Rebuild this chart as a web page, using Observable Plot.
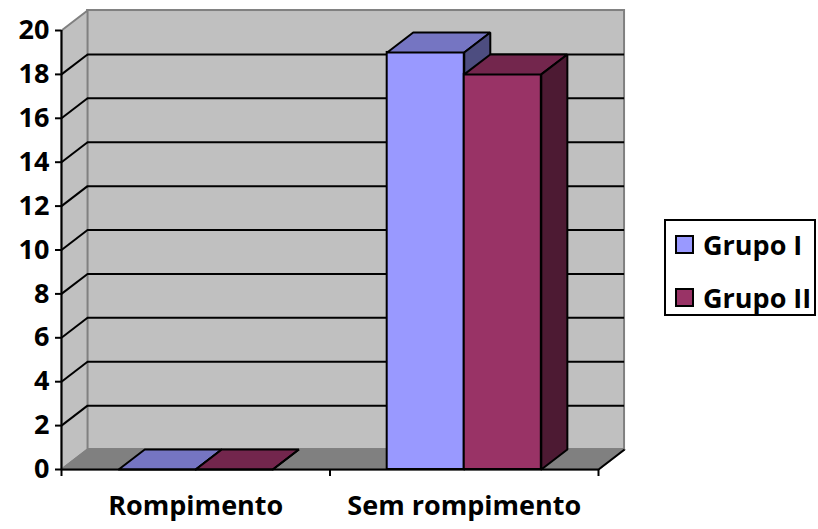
<!DOCTYPE html>
<html>
<head>
<meta charset="utf-8">
<script src="https://cdn.jsdelivr.net/npm/d3@7"></script>
<script src="https://cdn.jsdelivr.net/npm/@observablehq/plot@0.6"></script>
<style>
  body { margin: 0; background: #fff; }
  #chart { position: relative; width: 818px; height: 529px; font-family: "Open Sans", sans-serif; font-weight: bold; }
  #legend { position: absolute; left: 664px; top: 219px; width: 152px; height: 97px; border: 2px solid #000; background: #fff; box-sizing: border-box; }
  .item { position: absolute; left: 9px; display: flex; align-items: center; font-size: 27px; line-height: 1; color: #000; white-space: nowrap; }
  .sw { width: 15px; height: 15px; border: 2px solid #000; margin-right: 9px; flex: none; }
</style>
</head>
<body>
<div id="chart"></div>
<script>
// Chart data
const categories = ["Rompimento", "Sem rompimento"];
const series = ["Grupo I", "Grupo II"];
const grupoI = [0, 19];
const grupoII = [0, 18];
const yTicks = [0, 2, 4, 6, 8, 10, 12, 14, 16, 18, 20];

// Face shading per series: front, top, side
const palette = [
  { front: "#9999ff", top: "#7575c2", side: "#4d4d80" },
  { front: "#993366", top: "#73264d", side: "#4d1a33" }
];

// 3-D depth expressed in data units (x: category units, y: value units)
const dX = 0.097, dY = 0.91;
const yMax = 20;
const barW = 0.287, barStart = 0.213;

const values = [grupoI, grupoII];
const bars = [];
series.forEach((s, si) => {
  categories.forEach((c, ci) => {
    const x0 = ci + barStart + si * barW;
    bars.push({ s, si, c, ci, v: values[si][ci], x0, x1: x0 + barW, id: s + "|" + c });
  });
});

const topPts = b => [[b.x0, b.v], [b.x1, b.v], [b.x1 + dX, b.v + dY], [b.x0 + dX, b.v + dY], [b.x0, b.v]]
  .map(([x, y]) => ({ id: b.id, x, y }));
const sidePts = b => [[b.x1, 0], [b.x1 + dX, dY], [b.x1 + dX, b.v + dY], [b.x1, b.v], [b.x1, 0]]
  .map(([x, y]) => ({ id: b.id, x, y }));

const leftWall = [[0, 0], [dX, dY], [dX, yMax + dY], [0, yMax], [0, 0]].map(([x, y]) => ({ x, y }));
const floor = [[0, 0], [2, 0], [2 + dX, dY], [dX, dY], [0, 0]].map(([x, y]) => ({ x, y }));
const inner = yTicks.filter(v => v > 0 && v < yMax);

const barMarks = series.flatMap((s, si) => {
  const bs = bars.filter(b => b.si === si);
  const p = palette[si];
  return [
    Plot.rect(bs, { x1: "x0", x2: "x1", y1: 0, y2: "v", fill: p.front, stroke: "#000", strokeWidth: 2 }),
    Plot.line(bs.flatMap(topPts), { x: "x", y: "y", z: "id", fill: p.top, stroke: "#000", strokeWidth: 2, strokeLinejoin: "miter" }),
    Plot.line(bs.flatMap(sidePts), { x: "x", y: "y", z: "id", fill: p.side, stroke: "#000", strokeWidth: 2, strokeLinejoin: "miter" })
  ];
});

const chart = Plot.plot({
  width: 818,
  height: 529,
  marginLeft: 61,
  marginRight: 220,
  marginTop: 30,
  marginBottom: 60,
  style: { fontFamily: "'Open Sans', sans-serif", fontSize: "27px", fontWeight: "bold", color: "#000", background: "#fff" },
  x: { type: "linear", domain: [0, 2], label: null },
  y: { type: "linear", domain: [0, yMax], label: null },
  marks: [
    // back wall, side wall and floor
    Plot.rect([0], { x1: dX, x2: 2 + dX, y1: dY, y2: yMax + dY, fill: "#c0c0c0", stroke: "#808080", strokeWidth: 2 }),
    Plot.line(leftWall, { x: "x", y: "y", fill: "#c0c0c0", stroke: "#808080", strokeWidth: 2 }),
    Plot.line(floor, { x: "x", y: "y", fill: "#808080", stroke: "#808080", strokeWidth: 2 }),
    Plot.link([0], { x1: 2, y1: 0, x2: 2 + dX, y2: dY, stroke: "#000", strokeWidth: 2 }),
    // gridlines on back wall and side wall
    Plot.ruleY(inner, { y: v => v + dY, x1: dX, x2: 2 + dX, stroke: "#000", strokeWidth: 2 }),
    Plot.link(inner, { x1: 0, y1: v => v, x2: dX, y2: v => v + dY, stroke: "#000", strokeWidth: 2 }),
    // bars
    ...barMarks,
    // axes
    Plot.ruleX([0], { y1: 0, y2: yMax, stroke: "#000", strokeWidth: 2 }),
    Plot.ruleY([0], { x1: 0, x2: 2, stroke: "#000", strokeWidth: 2 }),
    Plot.axisY(yTicks, { tickSize: 6, tickPadding: 6, strokeWidth: 2, label: null }),
    Plot.axisX([0, 1, 2], { tickSize: 7, tickFormat: () => "", strokeWidth: 2, label: null }),
    Plot.text(categories, { x: (d, i) => i + 0.5, y: 0, dy: 37, text: d => d, fill: "#000" })
  ]
});

const root = document.getElementById("chart");
root.appendChild(chart);

// Legend
const legend = document.createElement("div");
legend.id = "legend";
series.forEach((s, i) => {
  const item = document.createElement("div");
  item.className = "item";
  item.style.top = (i === 0 ? 10 : 63) + "px";
  const sw = document.createElement("div");
  sw.className = "sw";
  sw.style.background = palette[i].front;
  const t = document.createElement("span");
  t.textContent = s;
  item.appendChild(sw);
  item.appendChild(t);
  legend.appendChild(item);
});
root.appendChild(legend);
</script>
</body>
</html>
